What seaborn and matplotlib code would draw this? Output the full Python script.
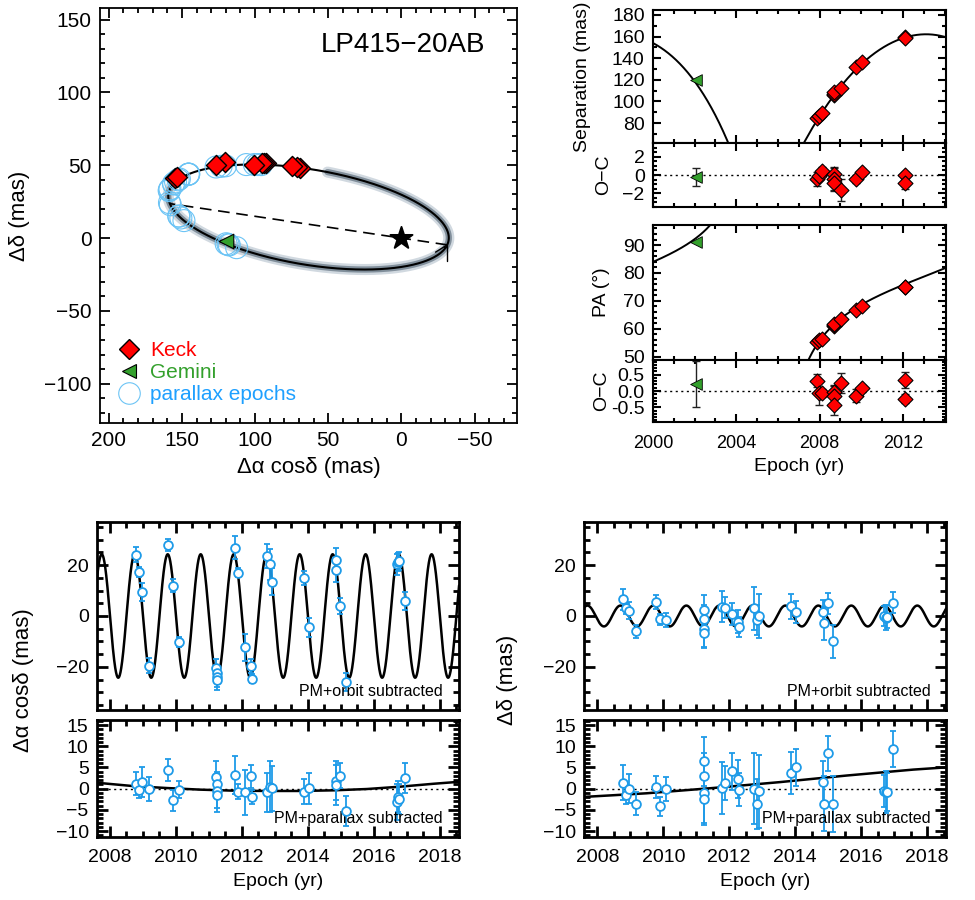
import numpy as np
import matplotlib
matplotlib.use("Agg")
import matplotlib.pyplot as plt
import seaborn as sns
from matplotlib.ticker import MultipleLocator
from matplotlib.lines import Line2D

# ---------------- relative astrometry ----------------
KECK_EPOCH = [2007.86, 2007.97, 2008.10, 2008.68, 2008.69, 2008.70, 2009.03, 2009.73, 2010.05, 2012.10, 2012.11]
KECK_SEP = [84.5, 86.5, 89.5, 106.0, 107.0, 108.5, 112.5, 131.5, 136.5, 160.0, 159.0]
KECK_PA = [55.3, 55.8, 56.5, 61.0, 61.3, 61.6, 63.4, 66.6, 68.3, 75.0, 74.8]
KECK_SEP_OC = [-0.44, -0.07, 0.48, 0.10, -0.40, -0.85, -1.67, -0.44, 0.30, 0.00, -0.93]
KECK_SEP_ERR = [0.8, 0.5, 0.4, 0.7, 1.3, 0.9, 1.2, 0.4, 0.4, 0.3, 0.65]
KECK_PA_OC = [0.32, -0.07, -0.07, -0.02, -0.16, -0.44, 0.24, -0.15, 0.08, 0.34, -0.23]
KECK_PA_ERR = [0.2, 0.35, 0.12, 0.2, 0.3, 0.3, 0.3, 0.2, 0.1, 0.25, 0.15]

GEMINI_EPOCH = [2002.06]
GEMINI_SEP = [120.0]
GEMINI_PA = [91.1]
GEMINI_SEP_OC = [-0.19]
GEMINI_SEP_ERR = [1.0]
GEMINI_PA_OC = [0.21]
GEMINI_PA_ERR = [0.7]

# ---------------- unresolved astrometry (parallax epochs) ----------------
PLX_EPOCH = [2008.79, 2008.88, 2008.96, 2009.17, 2009.77, 2009.91, 2010.08,
             2011.22, 2011.23, 2011.23, 2011.24, 2011.79, 2011.88, 2012.09,
             2012.27, 2012.29, 2012.75, 2012.85, 2012.91, 2013.88, 2014.03,
             2014.84, 2014.86, 2014.98, 2015.16, 2016.69, 2016.74, 2016.77, 2016.95]
RA_PLX = [24.2, 17.4, 9.5, -19.5, 28.0, 11.9, -10.3,
          -20.5, -22.5, -24.0, -25.0, 26.9, 17.0, -12.3,
          -19.6, -24.7, 23.5, 20.3, 13.5, 15.0, -4.4,
          22.0, 18.0, 3.9, -25.9, 20.3, 21.3, 21.7, 6.0]
RA_ORB = [1.2, -0.3, 1.6, 0.0, 4.4, -2.7, -0.2,
          2.8, 1.0, -0.5, -1.5, 3.3, -0.7, -0.8,
          2.9, -1.9, -0.9, 0.5, 0.1, -0.7, 0.1,
          1.9, 0.8, 3.1, -5.2, -3.1, -1.9, -2.5, 2.5]
RA_ERR = [2.8, 2.0, 3.5, 2.8, 2.5, 2.5, 2.0,
          3.7, 3.0, 4.0, 4.0, 4.5, 1.8, 5.3,
          2.8, 1.7, 4.7, 6.0, 5.3, 2.9, 3.7,
          4.6, 4.7, 3.0, 3.5, 4.3, 3.6, 3.5, 3.5]
DEC_PLX = [6.5, 3.0, 2.1, -6.1, 5.4, -1.3, -1.6,
           2.4, -1.2, -5.2, -6.5, 3.7, 3.3, 0.8,
           -2.2, -4.4, 3.0, -1.6, 0.0, 3.8, 1.7,
           1.4, -2.9, 5.0, -10.0, 0.0, -0.7, -0.3, 5.2]
DEC_ORB = [1.4, -1.4, 0.0, -3.6, 0.4, -4.2, -0.1,
           6.5, 3.0, -1.0, -2.5, 0.2, 1.4, 4.1,
           2.2, -0.2, 0.0, -3.6, -0.6, 3.7, 5.0,
           1.5, -3.5, 8.3, -3.6, -0.6, -0.8, -0.7, 9.4]
DEC_ERR = [4.1, 2.2, 3.4, 2.7, 2.7, 2.2, 2.8,
           5.8, 5.5, 7.0, 6.0, 6.2, 4.0, 4.3,
           4.5, 4.0, 8.4, 6.0, 8.6, 4.9, 4.3,
           5.0, 6.5, 4.2, 6.6, 3.8, 5.0, 4.5, 4.2]

# photocenter orbit curves
ORB_RA_T = [2007.6, 2008.72, 2009.73, 2010.74, 2011.75, 2012.76, 2013.77, 2014.78, 2015.79, 2016.80, 2017.81, 2018.6]
ORB_RA_V = [1.4, 0.6, 0.15, -0.23, -0.47, -0.54, -0.54, -0.39, -0.08, 0.47, 1.16, 1.63]
ORB_DEC_T = [2007.6, 2008.48, 2009.49, 2010.50, 2011.51, 2012.52, 2013.54, 2014.55, 2015.56, 2016.57, 2017.58, 2018.6]
ORB_DEC_V = [-1.94, -1.55, -1.09, -0.47, 0.16, 0.85, 1.55, 2.33, 3.10, 3.80, 4.50, 5.04]

# parallax model parameters
PLX_RA_AMP, PLX_RA_PEAK = 24.3, 2007.75
PLX_DEC_AMP, PLX_DEC_PEAK = 4.1, 2007.70

# relative-orbit model parameters (estimated from figure)
ORBIT_PERIOD = 14.74
ORBIT_T0 = 2005.12
ORBIT_ECC = 0.679
TI_B, TI_A = -93.5, -21.3     # periastron semi-axis (dRA, dDec)
TI_G, TI_F = -21.2, 29.1      # conjugate semi-axis (dRA, dDec)
NODE_PA = 81.5

# ---------------- style ----------------
sns.set_theme(style="ticks", rc={
    "axes.edgecolor": "black", "xtick.color": "black", "ytick.color": "black",
    "text.color": "black", "axes.labelcolor": "black",
    "xtick.direction": "in", "ytick.direction": "in",
    "xtick.top": True, "ytick.right": True,
})
plt.rcParams["font.family"] = ["Liberation Sans", "DejaVu Sans"]

RED = "#ff0000"
GREEN = "#33a02c"
BLUE = "#1e9be8"
LBLUE = "#6cc4f5"


def ecc_anomaly(t):
    M = 2 * np.pi * (np.asarray(t, float) - ORBIT_T0) / ORBIT_PERIOD
    E = M.copy()
    for _ in range(300):
        E = M + ORBIT_ECC * np.sin(E)
    return E


def orbit_xy(E):
    c = np.cos(E) - ORBIT_ECC
    s = np.sin(E)
    return TI_B * c + TI_G * s, TI_A * c + TI_F * s


def style(ax, xmaj, xmin, ymaj, ymin, lw, L, xsize, ysize, xpad=6):
    ax.xaxis.set_major_locator(MultipleLocator(xmaj))
    ax.xaxis.set_minor_locator(MultipleLocator(xmin))
    ax.yaxis.set_major_locator(MultipleLocator(ymaj))
    ax.yaxis.set_minor_locator(MultipleLocator(ymin))
    ax.tick_params(which="both", direction="in", top=True, right=True, width=lw)
    ax.tick_params(which="major", length=L)
    ax.tick_params(which="minor", length=L * 0.5)
    ax.tick_params(axis="x", labelsize=xsize, pad=xpad)
    ax.tick_params(axis="y", labelsize=ysize, pad=6)
    for s in ax.spines.values():
        s.set_linewidth(lw)
        s.set_color("black")


fig = plt.figure(figsize=(9.75, 9), dpi=100)

# ================= top-left: orbit on sky =================
ax = fig.add_axes([100 / 975, 1 - 423 / 900, 417 / 975, 415 / 900])
E_full = np.linspace(0, 2 * np.pi, 721)
ox, oy = orbit_xy(E_full)
E_band = np.linspace(np.radians(172), np.radians(455), 400)
bx, by = orbit_xy(E_band)
sns.lineplot(x=bx, y=by, sort=False, estimator=None, color="#9aabbb", lw=8, alpha=0.45, ax=ax, zorder=1)
sns.lineplot(x=bx, y=by, sort=False, estimator=None, color="#4d5e6e", lw=4.5, alpha=0.6, ax=ax, zorder=1)
sns.lineplot(x=ox, y=oy, sort=False, estimator=None, color="black", lw=1.5, ax=ax, zorder=2)

# line of nodes through the primary
u = np.array([np.sin(np.radians(NODE_PA)), np.cos(np.radians(NODE_PA))])
Mmat = np.array([[TI_B, TI_G], [TI_A, TI_F]])
a_vec = np.linalg.solve(Mmat, u)
b_vec = np.array([-ORBIT_ECC, 0.0])
qa, qb, qc = a_vec @ a_vec, -2 * (a_vec @ b_vec), b_vec @ b_vec - 1
roots = np.sort((-qb + np.array([-1, 1]) * np.sqrt(qb ** 2 - 4 * qa * qc)) / (2 * qa))
nx, ny = roots * u[0], roots * u[1]
ax.plot(nx, ny, color="black", lw=1.2, dashes=(7, 4), zorder=2)
ax.plot([nx[0], nx[0]], [ny[0], ny[0] - 11], color="black", lw=1.0, zorder=2)
ax.plot([nx[0], nx[0] + 8], [ny[0], ny[0] - 5], color="black", lw=1.0, zorder=2)

# parallax epochs on the orbit
px, py = orbit_xy(ecc_anomaly(PLX_EPOCH))
ax.scatter(px, py, s=250, facecolors="none", edgecolors=LBLUE, linewidths=0.8, zorder=3)

sns.scatterplot(x=[0], y=[0], marker="*", s=280, color="black", edgecolor="black", ax=ax, zorder=4, legend=False)

kx = np.array(KECK_SEP) * np.sin(np.radians(KECK_PA))
ky = np.array(KECK_SEP) * np.cos(np.radians(KECK_PA))
gx = np.array(GEMINI_SEP) * np.sin(np.radians(GEMINI_PA))
gy = np.array(GEMINI_SEP) * np.cos(np.radians(GEMINI_PA))
sns.scatterplot(x=kx, y=ky, marker="D", s=105, color=RED, edgecolor="black", linewidth=1.0, ax=ax, zorder=5, legend=False)
sns.scatterplot(x=gx, y=gy, marker="<", s=110, color=GREEN, edgecolor="black", linewidth=0.8, ax=ax, zorder=5, legend=False)

ax.set_xlim(206, -79)
ax.set_ylim(-127, 158)
style(ax, 50, 10, 50, 10, 1.3, 7, 15, 15)
ax.set_xlabel("Δα cosδ (mas)", fontsize=16)
ax.set_ylabel("Δδ (mas)", fontsize=16)
ax.xaxis.set_label_coords(0.5, -0.082)
ax.yaxis.set_label_coords(-0.167, 0.5)
ax.text(0.925, 0.911, "LP415−20AB", transform=ax.transAxes, ha="right", va="center", fontsize=20)

handles = [
    Line2D([], [], marker="D", ms=10, mfc=RED, mec="black", mew=1.0, ls="none"),
    Line2D([], [], marker="<", ms=10, mfc=GREEN, mec="black", mew=0.8, ls="none"),
    Line2D([], [], marker="o", ms=15.5, mfc="none", mec=LBLUE, mew=0.8, ls="none"),
]
ax.legend(handles, ["Keck", "Gemini", "parallax epochs"], loc="lower left",
          bbox_to_anchor=(0.045, 0.045), frameon=False, fontsize=15,
          handlelength=1.0, handletextpad=0.5, labelspacing=0.15, borderpad=0,
          borderaxespad=0, labelcolor=[RED, GREEN, "#1ea0ff"])

# ================= top-right: separation, PA =================
L0, W0 = 653 / 975, 293 / 975
ax_sep = fig.add_axes([L0, 1 - 143 / 900, W0, 133 / 900])
ax_soc = fig.add_axes([L0, 1 - 207 / 900, W0, 64 / 900])
ax_pa = fig.add_axes([L0, 1 - 360 / 900, W0, 135 / 900])
ax_poc = fig.add_axes([L0, 1 - 422 / 900, W0, 62 / 900])

tm = np.linspace(1999.8, 2014.3, 3000)
mx, my = orbit_xy(ecc_anomaly(tm))
msep = np.hypot(mx, my)
mpa = np.degrees(np.arctan2(mx, my)) % 360
sns.lineplot(x=tm, y=msep, sort=False, estimator=None, color="black", lw=1.4, ax=ax_sep)
breaks = np.where(np.abs(np.diff(mpa)) > 180)[0] + 1
for seg_t, seg_p in zip(np.split(tm, breaks), np.split(mpa, breaks)):
    sns.lineplot(x=seg_t, y=seg_p, sort=False, estimator=None, color="black", lw=1.4, ax=ax_pa)

sns.scatterplot(x=KECK_EPOCH, y=KECK_SEP, marker="D", s=58, color=RED, edgecolor="black", linewidth=0.8, ax=ax_sep, zorder=5, legend=False)
sns.scatterplot(x=GEMINI_EPOCH, y=GEMINI_SEP, marker="<", s=70, color=GREEN, edgecolor="black", linewidth=0.6, ax=ax_sep, zorder=5, legend=False)
sns.scatterplot(x=KECK_EPOCH, y=KECK_PA, marker="D", s=58, color=RED, edgecolor="black", linewidth=0.8, ax=ax_pa, zorder=5, legend=False)
sns.scatterplot(x=GEMINI_EPOCH, y=GEMINI_PA, marker="<", s=70, color=GREEN, edgecolor="black", linewidth=0.6, ax=ax_pa, zorder=5, legend=False)

for axo, kv, ke, gv, ge in [(ax_soc, KECK_SEP_OC, KECK_SEP_ERR, GEMINI_SEP_OC, GEMINI_SEP_ERR),
                            (ax_poc, KECK_PA_OC, KECK_PA_ERR, GEMINI_PA_OC, GEMINI_PA_ERR)]:
    axo.axhline(0, color="black", lw=1.0, ls=(0, (1.5, 2.5)), zorder=1)
    axo.errorbar(KECK_EPOCH, kv, yerr=ke, fmt="none", ecolor="#222222", elinewidth=1.0, capsize=3, capthick=1.0, zorder=2)
    axo.errorbar(GEMINI_EPOCH, gv, yerr=ge, fmt="none", ecolor="#222222", elinewidth=1.0, capsize=3, capthick=1.0, zorder=2)
    sns.scatterplot(x=KECK_EPOCH, y=kv, marker="D", s=58, color=RED, edgecolor="black", linewidth=0.8, ax=axo, zorder=5, legend=False)
    sns.scatterplot(x=GEMINI_EPOCH, y=gv, marker="<", s=70, color=GREEN, edgecolor="black", linewidth=0.6, ax=axo, zorder=5, legend=False)

for a in (ax_sep, ax_soc, ax_pa, ax_poc):
    a.set_xlim(2000, 2014.07)
ax_sep.set_ylim(61.5, 184.6)
ax_soc.set_ylim(-3.55, 3.55)
ax_pa.set_ylim(48.8, 97.2)
ax_poc.set_ylim(-0.95, 0.95)
style(ax_sep, 4, 1, 20, 10, 1.5, 6, 13, 14)
style(ax_soc, 4, 1, 2, 0.5, 1.5, 6, 13, 14)
style(ax_pa, 4, 1, 10, 2, 1.5, 6, 13, 14)
style(ax_poc, 4, 1, 0.5, 0.1, 1.5, 6, 13, 14, xpad=9)
ax_poc.yaxis.set_major_formatter(matplotlib.ticker.FormatStrFormatter("%.1f"))
for a in (ax_sep, ax_soc, ax_pa):
    a.tick_params(labelbottom=False)
ax_sep.set_ylabel("Separation (mas)", fontsize=14)
ax_sep.yaxis.set_label_coords(-0.212, 0.5)
ax_soc.set_ylabel("O−C", fontsize=14)
ax_soc.yaxis.set_label_coords(-0.14, 0.5)
ax_pa.set_ylabel("PA (°)", fontsize=14)
ax_pa.yaxis.set_label_coords(-0.146, 0.5)
ax_poc.set_ylabel("O−C", fontsize=14)
ax_poc.yaxis.set_label_coords(-0.148, 0.5)
ax_poc.set_xlabel("Epoch (yr)", fontsize=14, labelpad=5)

# ================= bottom: unresolved astrometry =================
tf = np.linspace(2007.5, 2018.7, 4000)
panels = [
    (97 / 975, RA_PLX, RA_ORB, RA_ERR, PLX_RA_AMP, PLX_RA_PEAK, ORB_RA_T, ORB_RA_V, "Δα cosδ (mas)", 24 / 975),
    (584.3 / 975, DEC_PLX, DEC_ORB, DEC_ERR, PLX_DEC_AMP, PLX_DEC_PEAK, ORB_DEC_T, ORB_DEC_V, "Δδ (mas)", 508 / 975),
]
for left, vplx, vorb, verr, amp, peak, ot, ov, lab, labx in panels:
    a1 = fig.add_axes([left, 1 - 710 / 900, 362 / 975, 188 / 900])
    a2 = fig.add_axes([left, 1 - 837 / 900, 362 / 975, 117 / 900])
    sns.lineplot(x=tf, y=amp * np.cos(2 * np.pi * (tf - peak)), sort=False, estimator=None,
                 color="black", lw=1.8, ax=a1, zorder=2)
    a2.axhline(0, color="black", lw=1.0, ls=(0, (1.5, 2.5)), zorder=1)
    sns.lineplot(x=ot, y=ov, sort=False, estimator=None, color="black", lw=1.8, ax=a2, zorder=2)
    for aa, vals in ((a1, vplx), (a2, vorb)):
        aa.errorbar(PLX_EPOCH, vals, yerr=verr, fmt="none", ecolor=BLUE, elinewidth=1.3,
                    capsize=2.5, capthick=1.3, zorder=3)
        sns.scatterplot(x=PLX_EPOCH, y=vals, marker="o", s=40, color="white", edgecolor=BLUE,
                        linewidth=1.3, ax=aa, zorder=4, legend=False)
    for aa in (aa for aa in (a1, a2)):
        aa.set_xlim(2007.606, 2018.58)
    a1.set_ylim(-37, 37)
    a2.set_ylim(-11.4, 16.2)
    style(a1, 2, 0.5, 20, 5, 2.0, 8, 14, 14)
    style(a2, 2, 0.5, 5, 1, 2.0, 8, 14, 14, xpad=9)
    a1.tick_params(labelbottom=False)
    a2.set_xlabel("Epoch (yr)", fontsize=14, labelpad=5)
    a1.text(0.956, 0.096, "PM+orbit subtracted", transform=a1.transAxes, ha="right", va="center", fontsize=11.5)
    a2.text(0.956, 0.162, "PM+parallax subtracted", transform=a2.transAxes, ha="right", va="center", fontsize=11.5)
    fig.text(labx, 1 - 680 / 900, lab, rotation=90, ha="center", va="center", fontsize=16)

fig.savefig("out.png", dpi=100)
